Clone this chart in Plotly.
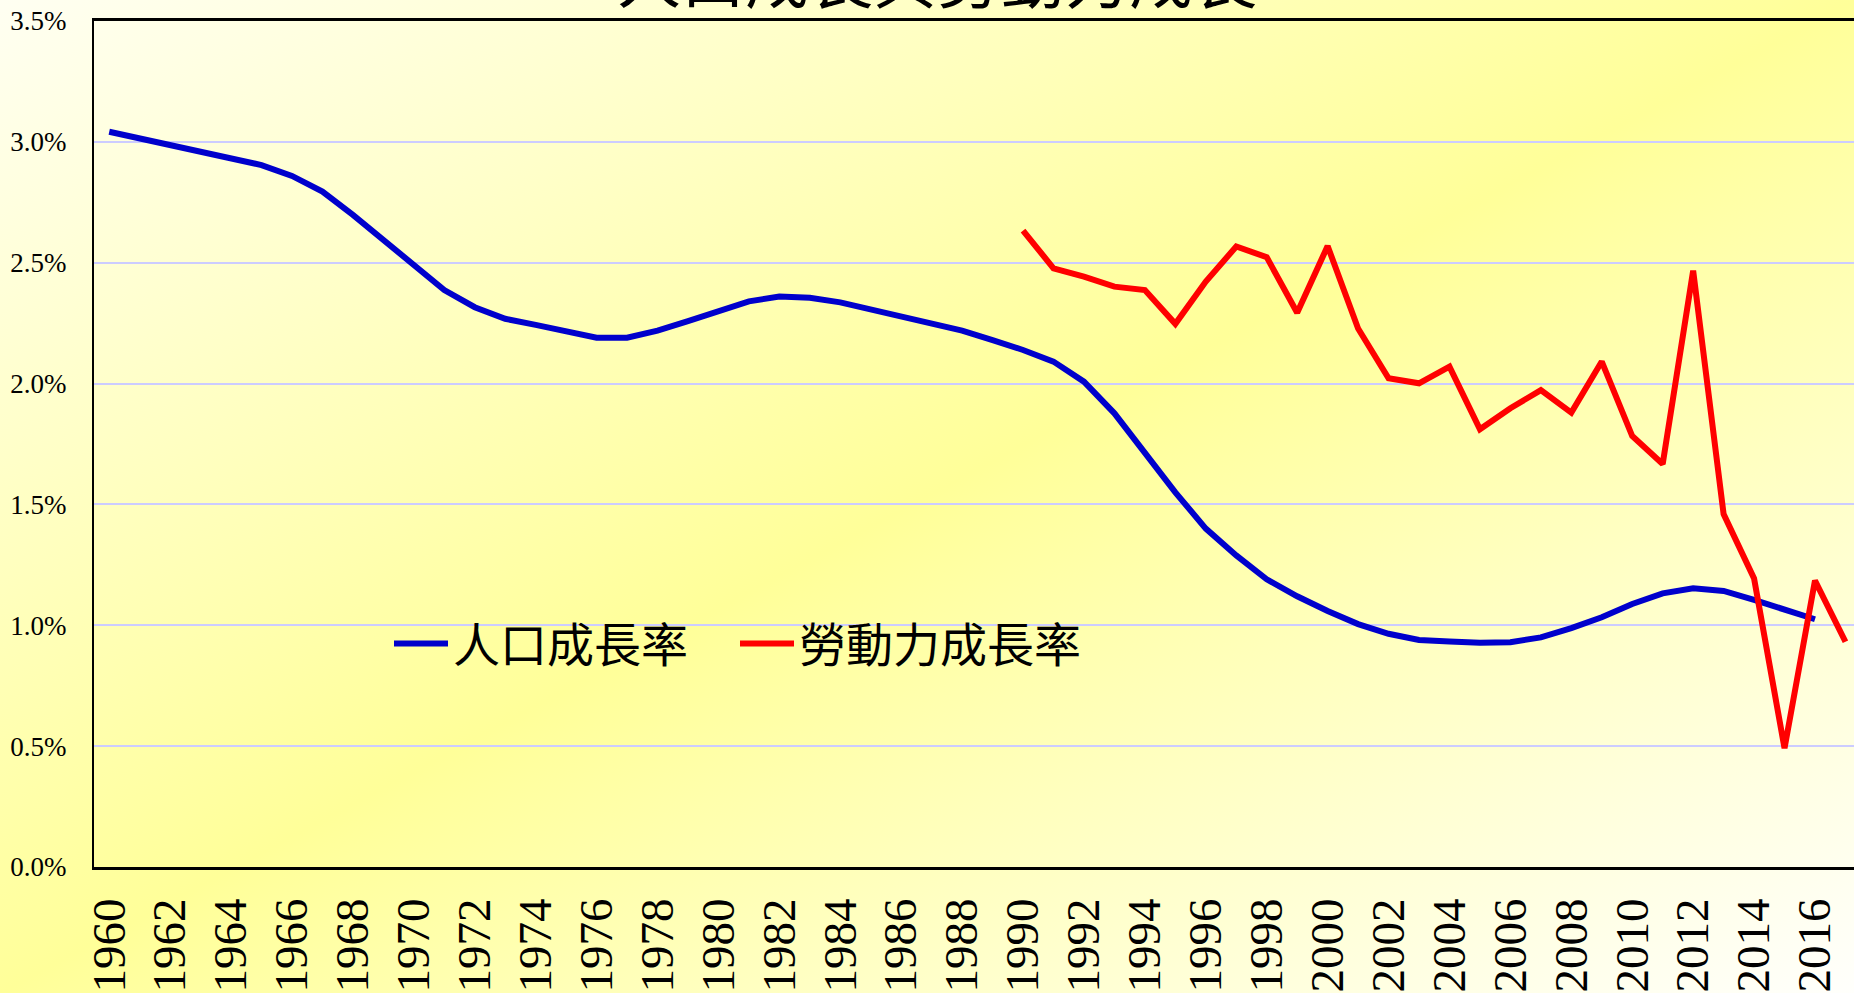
import base64
import plotly.graph_objects as go

years_pop = list(range(1960, 2017))
pop_growth = [3.042, 3.015, 2.987, 2.960, 2.932, 2.904, 2.859, 2.794, 2.698, 2.594,
              2.491, 2.387, 2.316, 2.268, 2.243, 2.219, 2.190, 2.190, 2.219, 2.258,
              2.300, 2.340, 2.360, 2.355, 2.336, 2.307, 2.277, 2.248, 2.219, 2.180,
              2.139, 2.091, 2.008, 1.877, 1.712, 1.550, 1.400, 1.289, 1.190, 1.120,
              1.059, 1.005, 0.965, 0.939, 0.933, 0.928, 0.930, 0.950, 0.988, 1.033,
              1.088, 1.132, 1.153, 1.142, 1.105, 1.063, 1.025]

years_lab = list(range(1990, 2018))
lab_growth = [2.633, 2.477, 2.442, 2.401, 2.387, 2.247, 2.422, 2.567, 2.523, 2.293,
              2.569, 2.228, 2.022, 2.001, 2.070, 1.811, 1.898, 1.973, 1.880, 2.091,
              1.783, 1.667, 2.467, 1.460, 1.194, 0.491, 1.185, 0.932]

tick_years = list(range(1960, 2018, 2))
y_ticks = [0.0, 0.5, 1.0, 1.5, 2.0, 2.5, 3.0, 3.5]
y_tick_text = ["0.0%", "0.5%", "1.0%", "1.5%", "2.0%", "2.5%", "3.0%", "3.5%"]

title_text = "人口成長與勞動力成長"
name_pop = "人口成長率"
name_lab = "勞動力成長率"

W, H = 1854, 993
ML, MR, MT, MB = 94, 0, 21, 126
PW, PH = W - ML - MR, H - MT - MB

svg = f'''<svg xmlns="http://www.w3.org/2000/svg" width="{W}" height="{H}" viewBox="0 0 {W} {H}" preserveAspectRatio="none">
<defs><linearGradient id="g" x1="0" y1="0" x2="1" y2="1">
<stop offset="0" stop-color="#FFFFF2"/>
<stop offset="0.5" stop-color="#FFFF99"/>
<stop offset="1" stop-color="#FFFFFC"/>
</linearGradient></defs>
<rect x="0" y="0" width="{W}" height="{H}" fill="url(#g)"/></svg>'''
src = "data:image/svg+xml;base64," + base64.b64encode(svg.encode()).decode()

fig = go.Figure()
fig.add_trace(go.Scatter(x=years_pop, y=pop_growth, mode="lines", name=name_pop,
                         line=dict(color="#0000CC", width=6)))
fig.add_trace(go.Scatter(x=years_lab, y=lab_growth, mode="lines", name=name_lab,
                         line=dict(color="#FF0000", width=6)))

fig.update_layout(
    width=W, height=H,
    margin=dict(l=ML, r=MR, t=MT, b=MB, pad=0, autoexpand=False),
    paper_bgcolor="rgba(0,0,0,0)",
    plot_bgcolor="rgba(0,0,0,0)",
    font=dict(family="Liberation Serif, Times New Roman, serif", color="black"),
    title=dict(text=title_text, x=937 / W, xref="container", xanchor="center",
               y=1 - 3 / H, yref="container", yanchor="bottom",
               font=dict(family="Noto Sans CJK TC", size=64, color="black")),
    images=[dict(source=src, xref="paper", yref="paper",
                 x=-ML / PW, y=1 + MT / PH, sizex=W / PW, sizey=H / PH,
                 xanchor="left", yanchor="top", sizing="stretch", layer="below")],
    showlegend=True,
    legend=dict(orientation="h", x=(389 - ML) / PW, xanchor="left",
                y=(867 - 644) / PH, yanchor="middle",
                bgcolor="rgba(0,0,0,0)", borderwidth=0, itemwidth=54,
                entrywidth=277, entrywidthmode="pixels",
                font=dict(family="Noto Sans CJK TC", size=47, color="black")),
    xaxis=dict(range=[1959.5, 1959.5 + PW / 30.46], tickvals=tick_years,
               tickangle=-90, ticks="", showgrid=False, zeroline=False,
               showline=True, linecolor="black", linewidth=2.5, mirror=True,
               automargin=False,
               tickfont=dict(family="Liberation Serif", size=47, color="black"),
               ticklabelstandoff=10),
    yaxis=dict(range=[0, 3.5], tickvals=y_ticks, ticktext=y_tick_text,
               ticks="", showgrid=True, gridcolor="#CCCCFF", gridwidth=2,
               zeroline=False, showline=True, linecolor="black", linewidth=2,
               automargin=False,
               tickfont=dict(family="Liberation Serif", size=27, color="black"),
               ticklabelstandoff=20),
)

fig.write_html("out.html", config={"displayModeBar": False},
               post_script="document.body.style.margin='0';document.body.style.overflow='hidden';")
